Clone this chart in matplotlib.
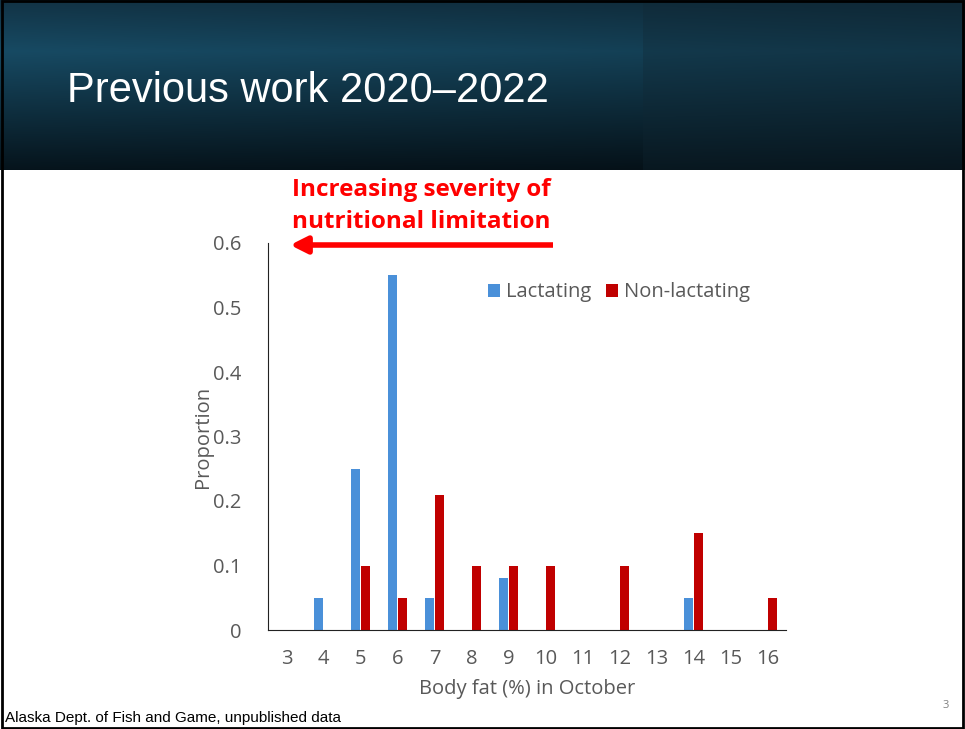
import numpy as np
import matplotlib.pyplot as plt
from matplotlib.patches import Rectangle

# data
body_fat = [3, 4, 5, 6, 7, 8, 9, 10, 11, 12, 13, 14, 15, 16]
lactating = [0, 0.05, 0.25, 0.55, 0.05, 0, 0.08, 0, 0, 0, 0, 0.05, 0, 0]
non_lactating = [0, 0, 0.10, 0.05, 0.21, 0.10, 0.10, 0.10, 0, 0.10, 0, 0.15, 0, 0.05]
yticks = [0, 0.1, 0.2, 0.3, 0.4, 0.5, 0.6]

plt.rcParams['font.family'] = ['Open Sans', 'DejaVu Sans']

W, H = 965, 729
fig = plt.figure(figsize=(W / 100, H / 100), dpi=100)
fig.patch.set_facecolor('white')

# title band with gradient
band = fig.add_axes([0, 1 - 170 / H, 1, 170 / H])
band.set_axis_off()
ny, nx = 170, W
yy = np.linspace(0, 1, ny)[:, None]
xx = np.linspace(0, 1, nx)[None, :]
c_top = np.array([0x12, 0x33, 0x45]) / 255
c_mid = np.array([0x17, 0x4a, 0x63]) / 255
c_bot = np.array([0x06, 0x14, 0x1c]) / 255
grad = np.where(yy[..., None] < 0.3,
                c_top + (c_mid - c_top) * (yy[..., None] / 0.3),
                c_mid + (c_bot - c_mid) * ((yy[..., None] - 0.3) / 0.7))
grad = grad * np.ones((1, nx, 1))
grad = grad * (1 - 0.2 * (xx[..., None]))
right = xx[0] > 643 / W
grad[:, right, :] = grad[:, right, :] * 0.7 + np.array([0x10, 0x26, 0x32]) / 255 * 0.3
band.imshow(grad, aspect='auto', extent=[0, 1, 0, 1])
band.set_xlim(0, 1)
band.set_ylim(0, 1)

fig.text(67 / W, 1 - 91 / H, 'Previous work 2020\u20132022', color='white',
         fontsize=30, family='Liberation Sans', va='center', ha='left')

# chart
ax = fig.add_axes([268 / W, 1 - 630 / H, (786 - 268) / W, (630 - 243) / H])
x = np.array(body_fat)
w = 0.23
ax.bar(x - 0.13, lactating, width=w, color='#4a90d9', label='Lactating', zorder=2)
ax.bar(x + 0.13, non_lactating, width=w, color='#c00000', label='Non-lactating', zorder=2)
ax.set_xlim(2.5, 16.5)
ax.set_ylim(0, 0.6)
ax.set_xticks(body_fat)
ax.set_yticks(yticks)
ax.set_yticklabels([f'{v:g}' for v in yticks])
for s in ['top', 'right']:
    ax.spines[s].set_visible(False)
ax.spines['left'].set_color('#222222')
ax.spines['bottom'].set_color('#222222')
ax.tick_params(length=0, labelsize=14.5, labelcolor='#595959')
ax.tick_params(axis='x', pad=14)
ax.tick_params(axis='y', pad=19)
ax.set_xlabel('Body fat (%) in October', fontsize=14.5, color='#595959', labelpad=7)
ax.set_ylabel('Proportion', fontsize=14.5, color='#595959', labelpad=0)
ax.legend(loc='upper left', bbox_to_anchor=(0.39, 0.945), ncol=2, frameon=False,
          fontsize=14.5, labelcolor='#595959', handlelength=0.6, handleheight=0.6,
          handletextpad=0.3, columnspacing=0.7)

# annotation
fig.text(421 / W, 1 - 206 / H, 'Increasing severity of\nnutritional limitation',
         color='#ff0000', fontsize=17.5, fontweight='bold', ha='center', va='center',
         linespacing=1.4)
fig.add_artist(plt.Annotation('', xy=(290 / W, 1 - 245 / H), xytext=(553 / W, 1 - 245 / H),
                              xycoords='figure fraction', textcoords='figure fraction',
                              arrowprops=dict(arrowstyle='-|>,head_length=1.0,head_width=0.5',
                                              color='#ff0000', lw=4, shrinkA=0, shrinkB=0,
                                              capstyle='butt')))

# footer
fig.text(5 / W, 1 - 718 / H, 'Alaska Dept. of Fish and Game, unpublished data',
         fontsize=11, color='black', family='Liberation Sans', ha='left', va='center')
fig.text(946 / W, 1 - 706 / H, '3', fontsize=8, color='#808080', ha='center', va='center')

# slide border
fig.add_artist(Rectangle((0.002, 0.002), 0.996, 0.996, transform=fig.transFigure,
                         fill=False, edgecolor='black', lw=2))

fig.savefig('out.png', dpi=100)
